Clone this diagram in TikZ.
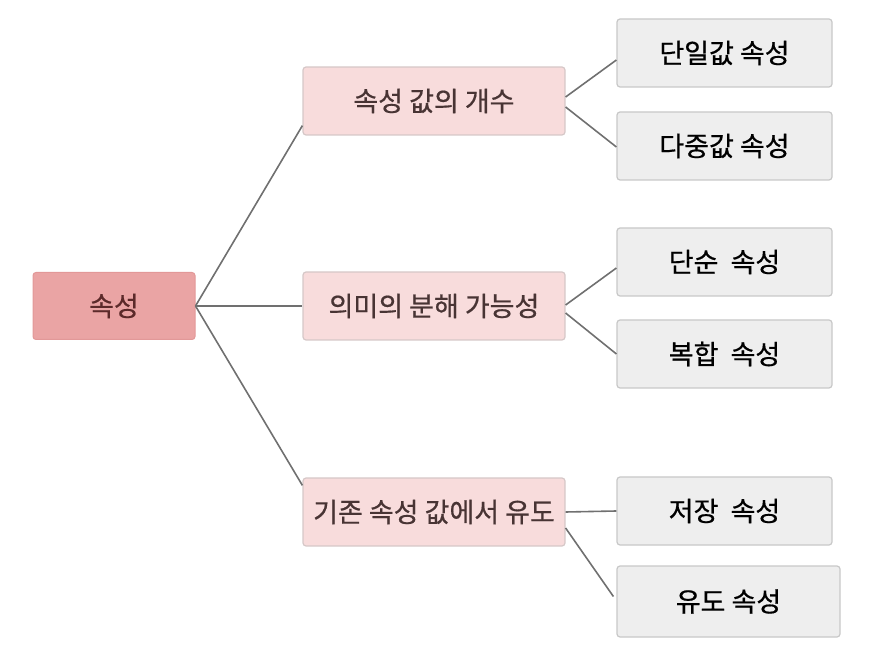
\documentclass[tikz,border=0pt]{standalone}
\usepackage{fontspec}
\setmainfont{Noto Sans CJK KR}[FakeBold=0.6]
\usetikzlibrary{positioning}
\definecolor{rootpink}{RGB}{234, 164, 164}
\definecolor{rootedge}{RGB}{226, 152, 152}
\definecolor{midpink}{RGB}{248, 220, 220}
\definecolor{midedge}{RGB}{214, 200, 200}
\definecolor{leafgray}{RGB}{238, 238, 238}
\definecolor{leafedge}{RGB}{200, 200, 200}
\definecolor{linkgray}{RGB}{112, 112, 112}
\definecolor{rootink}{RGB}{92, 42, 42}
\definecolor{midink}{RGB}{72, 52, 52}

\tikzset{
  rootbox/.style={draw=rootedge, fill=rootpink, rounded corners=3pt, line width=1pt,
    minimum width=162pt, minimum height=67pt, font=\fontsize{27}{30}\selectfont, text=rootink},
  midbox/.style={draw=midedge, fill=midpink, rounded corners=3pt, line width=1.2pt,
    minimum width=262pt, minimum height=68pt, font=\fontsize{27}{30}\selectfont, text=midink},
  leafbox/.style={draw=leafedge, fill=leafgray, rounded corners=3pt, line width=1.2pt,
    minimum width=215pt, minimum height=68pt, font=\fontsize{27}{30}\selectfont, text=black},
  link/.style={draw=linkgray, line width=1.6pt}
}

\begin{document}
\begin{tikzpicture}[x=1pt, y=-1pt]
  \useasboundingbox (0,0) rectangle (871,652);

  % root and the three groups
  \node[rootbox] (attr) at (114,306) {속성};
  \node[midbox] (count) at (434,101) {속성 값의 개수};
  \node[midbox] (split) at (434,306) {의미의 분해 가능성};
  \node[midbox] (derive) at (434,512) {기존 속성 값에서 유도};

  % leaves
  \node[leafbox] (single) at (724.5,53) {단일값 속성};
  \node[leafbox] (multi) at (724.5,146) {다중값 속성};
  \node[leafbox] (simple) at (724.5,262) {단순~~속성};
  \node[leafbox] (compound) at (724.5,354) {복합~~속성};
  \node[leafbox] (stored) at (724.5,511) {저장~~속성};
  \node[leafbox, minimum width=223pt, minimum height=71pt] (derived) at (728.5,601.5) {유도 속성};

  % connectors
  \draw[link] (attr.east) -- ([yshift=10pt]count.south west);
  \draw[link] (attr.east) -- (split.west);
  \draw[link] (attr.east) -- ([yshift=-8pt]derive.north west);

  \draw[link] ([yshift=4pt]count.east) -- ([yshift=-7pt]single.west);
  \draw[link] ([yshift=-6pt]count.east) -- ([yshift=-1pt]multi.west);
  \draw[link] ([yshift=1pt]split.east) -- ([yshift=-6pt]simple.west);
  \draw[link] ([yshift=-7pt]split.east) -- (compound.west);
  \draw[link] (derive.east) -- (stored.west);
  \draw[link] ([yshift=-16pt]derive.east) -- ([xshift=-3pt,yshift=5pt]derived.west);
\end{tikzpicture}
\end{document}
